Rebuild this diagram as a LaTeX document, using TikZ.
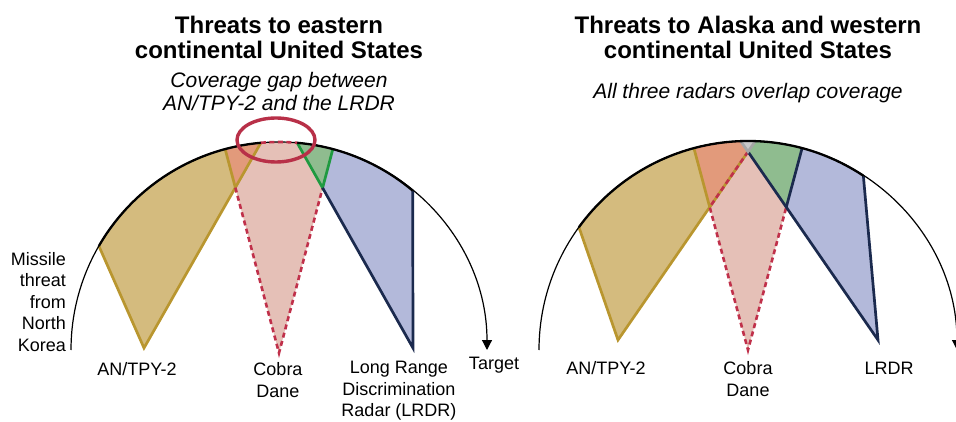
\documentclass[tikz,border=0pt]{standalone}
\usepackage{fontspec}
\setmainfont{Liberation Sans}
\usetikzlibrary{arrows.meta,calc}
\definecolor{tanF}{HTML}{D4BB7E}
\definecolor{goldC}{HTML}{B9962F}
\definecolor{orangeF}{HTML}{E29A7B}
\definecolor{pinkF}{HTML}{E5C0B7}
\definecolor{redC}{HTML}{C0304A}
\definecolor{greenF}{HTML}{8FBC8F}
\definecolor{greenC}{HTML}{1F9A40}
\definecolor{blueF}{HTML}{B3B9DA}
\definecolor{navyC}{HTML}{1B2A4E}
\definecolor{grayF}{HTML}{C8C8C8}
\definecolor{grayC}{HTML}{A6A6A6}
\definecolor{ringC}{HTML}{B83048}
\begin{document}
\begin{tikzpicture}[x=1pt,y=-1pt,
  goldL/.style={draw=goldC,line width=2.7pt},
  redD/.style={draw=redC,line width=2.6pt,dash pattern=on 5pt off 3.5pt},
  greenL/.style={draw=greenC,line width=2.7pt},
  navyL/.style={draw=navyC,line width=2.7pt},
  grayL/.style={draw=grayC,line width=2.7pt},
  arcL/.style={draw=black,line width=1.2pt},
  arcT/.style={draw=black,line width=2.3pt},
  ringL/.style={draw=ringC,line width=3.4pt},
  titleT/.style={font=\bfseries\fontsize{24}{25}\selectfont,align=center,inner sep=0pt},
  subT/.style={font=\itshape\fontsize{21}{23}\selectfont,align=center,inner sep=0pt},
  lab/.style={font=\fontsize{18}{21.5}\selectfont,align=center,inner sep=0pt},
  tipA/.style={-{Triangle[length=10pt,width=10pt]}}]
\useasboundingbox (0,0) rectangle (956,422);
% ---------------- left panel ----------------
\coordinate (C) at (279,350);
\coordinate (A1) at (144,348);
\coordinate (A2) at (279,353);
\coordinate (A3) at (413,348);
\coordinate (T1) at ($(C)+(-150:208)$);
\coordinate (T2) at ($(C)+(-95:208)$);
\coordinate (B1) at ($(C)+(-105:208)$);
\coordinate (B2) at ($(C)+(-75:208)$);
\coordinate (L1) at ($(C)+(-85:208)$);
\coordinate (L2) at ($(C)+(-50:208)$);
\coordinate (S0) at ($(C)+(-180:208)$);
\coordinate (P) at (intersection of A1--T2 and A2--B1);
\coordinate (Q) at (intersection of A2--B2 and A3--L1);
\fill[tanF] (A1) -- (T1) arc[start angle=-150,end angle=-95,radius=208] -- cycle;
\fill[pinkF] (A2) -- (B1) arc[start angle=-105,end angle=-75,radius=208] -- cycle;
\fill[blueF] (A3) -- (L1) arc[start angle=-85,end angle=-50,radius=208] -- cycle;
\fill[orangeF] (P) -- (B1) arc[start angle=-105,end angle=-95,radius=208] -- cycle;
\fill[greenF] (Q) -- (L1) arc[start angle=-85,end angle=-75,radius=208] -- cycle;
\draw[goldL] (T1) -- (A1) -- (T2);
\draw[goldL] (P) -- (B1);
\draw[redD] (P) -- (A2) -- (Q);
\draw[greenL] (B2) -- (Q) -- (L1);
\draw[navyL] (Q) -- (A3) -- (L2);
\draw[arcL,tipA] (S0) arc[start angle=-180,end angle=0,radius=208];
\draw[arcT] (T1) arc[start angle=-150,end angle=-95,radius=208];
\draw[arcT] (L1) arc[start angle=-85,end angle=-50,radius=208];
\draw[redD] (T2) arc[start angle=-95,end angle=-85,radius=208];
\draw[ringL] (276,140) ellipse[x radius=39,y radius=22];
% ---------------- right panel ----------------
\coordinate (D) at (748,350);
\coordinate (A4) at (618,340);
\coordinate (A5) at (748,350);
\coordinate (A6) at (878,340);
\coordinate (U1) at ($(D)+(-144:209)$);
\coordinate (U2) at ($(D)+(-88:209)$);
\coordinate (V1) at ($(D)+(-105:209)$);
\coordinate (V2) at ($(D)+(-75:209)$);
\coordinate (W1) at ($(D)+(-92:209)$);
\coordinate (W2) at ($(D)+(-56.5:209)$);
\coordinate (S1) at ($(D)+(-180:209)$);
\coordinate (P2) at (intersection of A4--U2 and A5--V1);
\coordinate (Q2) at (intersection of A6--W1 and A5--V2);
\coordinate (X2) at (intersection of A4--U2 and A6--W1);
\fill[tanF] (A4) -- (U1) arc[start angle=-144,end angle=-88,radius=209] -- cycle;
\fill[pinkF] (A5) -- (V1) arc[start angle=-105,end angle=-75,radius=209] -- cycle;
\fill[blueF] (A6) -- (W1) arc[start angle=-92,end angle=-56.5,radius=209] -- cycle;
\fill[orangeF] (P2) -- (V1) arc[start angle=-105,end angle=-92,radius=209] -- (X2) -- cycle;
\fill[grayF] (X2) -- (W1) arc[start angle=-92,end angle=-88,radius=209] -- cycle;
\fill[greenF] (X2) -- (U2) arc[start angle=-88,end angle=-75,radius=209] -- (Q2) -- cycle;
\draw[goldL] (U1) -- (A4) -- (X2);
\draw[goldL] (P2) -- (V1);
\draw[redD] (X2) -- (P2) -- (A5) -- (Q2);
\draw[navyL] (W2) -- (A6) -- (X2);
\draw[navyL] (Q2) -- (V2);
\draw[grayL] (W1) -- (X2) -- (U2);
\draw[arcL,tipA] (S1) arc[start angle=-180,end angle=0,radius=209];
\draw[arcT] (U1) arc[start angle=-144,end angle=-56.5,radius=209];
% ---------------- texts ----------------
\node[titleT] (t1) at (279,37.5) {Threats to eastern\\continental United States};
\node[subT] (s1) at (279,91.5) {Coverage gap between\\AN/TPY-2 and the LRDR};
\node[titleT] (t2) at (748,37.5) {Threats to Alaska and western\\continental United States};
\node[subT] (s2) at (748,93) {All three radars overlap coverage};
\node[lab,align=right,anchor=east] (mt) at (66,302) {Missile\\threat\\from\\North\\Korea};
\node[lab] (l1) at (137,369) {AN/TPY-2};
\node[lab] (l2) at (278,380) {Cobra\\Dane};
\node[lab] (l3) at (399,391) {Long Range\\Discrimination\\Radar (LRDR)};
\node[lab] (l4) at (494,365) {Target};
\node[lab] (r1) at (606,368) {AN/TPY-2};
\node[lab] (r2) at (748,379) {Cobra\\Dane};
\node[lab] (r3) at (889,368) {LRDR};
\end{tikzpicture}
\end{document}
